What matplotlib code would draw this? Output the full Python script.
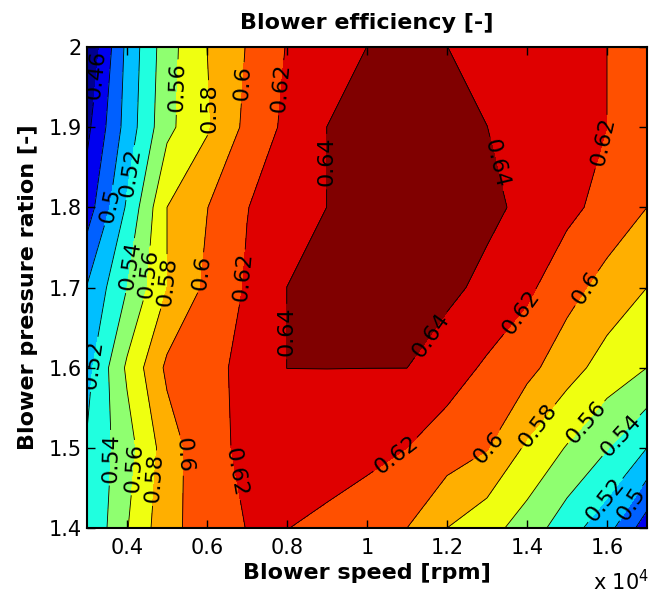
import numpy as np
import matplotlib
matplotlib.use("Agg")
import matplotlib.pyplot as plt
from matplotlib.ticker import FuncFormatter

"""
Data read from the map
"""
# blower speed [rpm]
speed = [3000, 4000, 5000, 6000, 7000, 8000, 9000, 10000,
         11000, 12000, 13000, 14000, 15000, 16000, 17000]

# pressure ratio [-]
pressure = [1.4, 1.5, 1.6, 1.7, 1.8, 1.9, 2.0]

# efficiency, one row per pressure ratio (bottom to top)
eff_14 = [0.521, 0.559, 0.594, 0.6095, 0.6205, 0.6205, 0.6134, 0.6068,
          0.600, 0.580, 0.5673, 0.551, 0.5288, 0.5075, 0.469]
eff_15 = [0.522, 0.5517, 0.590, 0.614, 0.624, 0.630, 0.634, 0.627,
          0.620, 0.6106, 0.6012, 0.5768, 0.5587, 0.5411, 0.520]
eff_16 = [0.513, 0.5632, 0.604, 0.612, 0.627, 0.6401, 0.6401, 0.6401,
          0.6401, 0.6286, 0.6172, 0.6059, 0.588, 0.5717, 0.560]
eff_17 = [0.501, 0.540, 0.580, 0.604, 0.622, 0.6401, 0.645, 0.647,
          0.647, 0.645, 0.6345, 0.624, 0.6074, 0.5923, 0.580]
eff_18 = [0.470, 0.5227, 0.580, 0.5995, 0.6195, 0.630, 0.6401, 0.648,
          0.650, 0.648, 0.645, 0.635, 0.625, 0.6133, 0.600]
eff_19 = [0.455, 0.508, 0.555, 0.5775, 0.605, 0.6246, 0.6401, 0.645,
          0.648, 0.646, 0.6401, 0.6333, 0.6267, 0.620, 0.612]
eff_20 = [0.440, 0.505, 0.552, 0.580, 0.601, 0.621, 0.630, 0.6401,
          0.645, 0.6401, 0.635, 0.630, 0.625, 0.620, 0.612]

# contour levels
line_levels = [0.46, 0.48, 0.50, 0.52, 0.54, 0.56, 0.58, 0.60, 0.62, 0.64]
fill_levels = [0.40] + line_levels + [0.70]

# where the level labels sit (speed, pressure)
label_pos = [(3300, 1.965), (3450, 1.803), (4000, 1.844), (4125, 1.727),
             (4450, 1.718), (5025, 1.707), (5925, 1.718), (6900, 1.713),
             (5275, 1.950), (6075, 1.924), (6975, 1.955), (7900, 1.949),
             (9125, 1.857), (13150, 1.853), (16000, 1.880), (15575, 1.696),
             (3300, 1.603), (3825, 1.487), (4250, 1.475), (4750, 1.462),
             (5450, 1.491), (6725, 1.469), (8125, 1.645), (11700, 1.637),
             (14025, 1.662), (10775, 1.487), (13075, 1.500), (14450, 1.520),
             (15575, 1.528), (16400, 1.513), (15950, 1.435), (16650, 1.429)]

# band colours (matlab jet)
band_colors = ['#00008f', '#0000ef', '#0060ff', '#00bfff', '#20ffdf',
               '#8fff70', '#efff10', '#ffaf00', '#ff5000', '#df0000',
               '#800000']

"""
Plot
"""
X, Y = np.meshgrid(speed, pressure)
Z = np.array([eff_14, eff_15, eff_16, eff_17, eff_18, eff_19, eff_20])

fig = plt.figure(figsize=(6.52, 5.98), dpi=100)
ax = fig.add_axes([87/652, 1-528/598, 560/652, 481/598])

ax.contourf(X, Y, Z, levels=fill_levels, colors=band_colors)
cs = ax.contour(X, Y, Z, levels=line_levels, colors='k', linewidths=0.6)
labels = ax.clabel(cs, levels=line_levels, manual=label_pos, inline=True,
                   inline_spacing=3, fontsize=16, fmt=lambda v: f"{v:g}")

# vertical labels read upwards, as in matlab
for t in labels:
    if abs(t.get_rotation() - 270) < 2:
        t.set_rotation(90)

ax.set_xlim(3000, 17000)
ax.set_ylim(1.4, 2.0)
ax.set_xticks([4000, 6000, 8000, 10000, 12000, 14000, 16000])
ax.set_yticks([1.4, 1.5, 1.6, 1.7, 1.8, 1.9, 2.0])
ax.xaxis.set_major_formatter(FuncFormatter(lambda v, p: f"{v/1e4:g}"))
ax.yaxis.set_major_formatter(FuncFormatter(lambda v, p: f"{v:g}"))
ax.tick_params(direction='in', top=True, right=True, length=6, width=1,
               labelsize=15)
ax.tick_params(axis='x', pad=7)
for s in ax.spines.values():
    s.set_linewidth(1.5)

ax.set_title("Blower efficiency [-]", fontsize=16, fontweight='bold', pad=13)
ax.set_xlabel("Blower speed [rpm]", fontsize=16, fontweight='bold', labelpad=4)
ax.set_ylabel("Blower pressure ration [-]", fontsize=16, fontweight='bold',
              labelpad=8)
fig.text(593/652, 1-590/598, "x 10$^{4}$", fontsize=15)

fig.savefig("out.png", dpi=100)
